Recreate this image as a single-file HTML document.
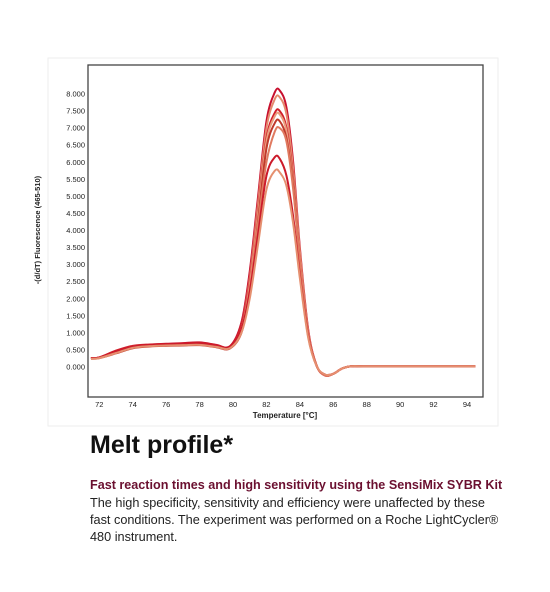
<!DOCTYPE html>
<html><head><meta charset="utf-8">
<style>
body{margin:0;background:#fff;width:550px;height:592px;overflow:hidden;font-family:"Liberation Sans",Arial,sans-serif;}
#wrap{position:relative;width:550px;height:592px;}
.t{position:absolute;left:90px;white-space:nowrap;}
</style></head><body>
<div id="wrap">
<svg id="chart" width="550" height="430" style="position:absolute;left:0;top:0">
  <rect x="48" y="58" width="450" height="368" fill="none" stroke="#eee"/>
  <rect x="88" y="65" width="395" height="332" fill="#fff" stroke="#444" stroke-width="1.3"/>
  <g id="yt"></g><g id="xt"></g><g id="series"></g>
  <text x="285" y="418" font-size="8" font-weight="bold" text-anchor="middle" fill="#222">Temperature [°C]</text>
  <text transform="translate(40,230) rotate(-90)" font-size="7.5" font-weight="bold" text-anchor="middle" fill="#222">-(d/dT) Fluorescence (465-510)</text>
</svg>
<div class="t" style="top:431px;font-size:25px;font-weight:bold;color:#111">Melt profile*</div>
<div class="t" style="top:478px;font-size:12.6px;font-weight:bold;color:#6b1030">Fast reaction times and high sensitivity using the SensiMix SYBR Kit</div>
<div class="t" style="top:495px;font-size:12.7px;line-height:17px;color:#222">The high specificity, sensitivity and efficiency were unaffected by these<br>fast conditions. The experiment was performed on a Roche LightCycler®<br>480 instrument.</div>
</div>
<script>
const temps=[71.5,72,73,74,75,76,77,78,79,79.8,80.5,81,81.5,82,82.5,82.8,83.2,83.6,84,84.5,85,85.5,86,86.5,87,88,90,94.5];
const s1=[0.25,0.28,0.45,0.6,0.65,0.68,0.7,0.72,0.65,0.6,1.3,2.8,5.0,7.2,8.05,8.1,7.6,6.0,3.5,1.1,0.05,-0.25,-0.2,-0.05,0.02,0.02,0.02,0.02];
const s2=[0.25,0.27,0.42,0.58,0.64,0.66,0.68,0.7,0.63,0.58,1.2,2.6,4.8,7.0,7.85,7.9,7.4,5.8,3.4,1.05,0.04,-0.25,-0.2,-0.05,0.02,0.02,0.02,0.02];
const s3=[0.26,0.28,0.48,0.62,0.66,0.67,0.69,0.71,0.64,0.59,1.2,2.5,4.6,6.7,7.45,7.5,7.0,5.5,3.2,1.0,0.04,-0.24,-0.2,-0.05,0.02,0.02,0.02,0.02];
const s4=[0.25,0.27,0.44,0.6,0.63,0.64,0.66,0.67,0.6,0.56,1.1,2.4,4.5,6.6,7.35,7.4,6.9,5.4,3.2,1.0,0.04,-0.24,-0.2,-0.05,0.02,0.02,0.02,0.02];
const s5=[0.24,0.26,0.4,0.55,0.6,0.62,0.63,0.64,0.58,0.54,1.0,2.2,4.3,6.4,7.15,7.2,6.7,5.3,3.1,1.0,0.04,-0.23,-0.2,-0.05,0.02,0.02,0.02,0.02];
const s6=[0.25,0.27,0.43,0.57,0.62,0.64,0.65,0.66,0.6,0.57,1.1,2.3,4.2,6.0,6.9,7.0,6.6,5.2,3.1,1.0,0.04,-0.23,-0.2,-0.05,0.02,0.02,0.02,0.02];
const s7=[0.26,0.28,0.46,0.6,0.65,0.67,0.68,0.7,0.63,0.6,1.1,2.2,3.9,5.6,6.15,6.1,5.6,4.4,2.7,0.9,0.03,-0.22,-0.2,-0.05,0.02,0.02,0.02,0.02];
const s8=[0.24,0.26,0.41,0.56,0.61,0.63,0.64,0.65,0.59,0.55,1.0,2.0,3.6,5.2,5.75,5.7,5.3,4.2,2.6,0.85,0.03,-0.22,-0.2,-0.05,0.02,0.02,0.02,0.02];
const seriesList=[s1,s2,s3,s4,s5,s6,s7,s8];
const seriesColors=["#c8102e","#e58a6e","#d21f2a","#eaa080","#c0392b","#e07a60","#cc1a2a","#e59070"];
const yTicks=[0,0.5,1,1.5,2,2.5,3,3.5,4,4.5,5,5.5,6,6.5,7,7.5,8];
const xTicks=[72,74,76,78,80,82,84,86,88,90,92,94];
const NS="http://www.w3.org/2000/svg";
const xs=t=>99.3+(t-72)*(367.7/22);
const ys=v=>367-v*(273/8);
const yt=document.getElementById('yt'),xt=document.getElementById('xt'),sg=document.getElementById('series');
yTicks.forEach(v=>{
  const tx=document.createElementNS(NS,'text');
  
  
  tx.setAttribute('x',85);tx.setAttribute('y',ys(v)+2.5);tx.setAttribute('font-size','7.5');tx.setAttribute('text-anchor','end');tx.setAttribute('fill','#222');
  tx.textContent=v.toFixed(3);
  yt.appendChild(tx);
});
xTicks.forEach(v=>{
  const tx=document.createElementNS(NS,'text');
  
  
  tx.setAttribute('x',xs(v));tx.setAttribute('y',407);tx.setAttribute('font-size','7.5');tx.setAttribute('text-anchor','middle');tx.setAttribute('fill','#222');
  tx.textContent=v;
  xt.appendChild(tx);
});
function pathFor(vals){
  const p=temps.map((t,i)=>[xs(t),ys(vals[i])]);
  let d='M'+p[0][0]+','+p[0][1];
  for(let i=0;i<p.length-1;i++){
    const p0=p[i-1]||p[i],p1=p[i],p2=p[i+1],p3=p[i+2]||p2;
    const c1x=p1[0]+(p2[0]-p0[0])/6,c1y=p1[1]+(p2[1]-p0[1])/6;
    const c2x=p2[0]-(p3[0]-p1[0])/6,c2y=p2[1]-(p3[1]-p1[1])/6;
    d+=' C'+c1x+','+c1y+' '+c2x+','+c2y+' '+p2[0]+','+p2[1];
  }
  return d;
}
seriesList.forEach((vals,i)=>{
  const pa=document.createElementNS(NS,'path');
  
  
  pa.setAttribute('d',pathFor(vals));pa.setAttribute('fill','none');
  pa.setAttribute('stroke',seriesColors[i%seriesColors.length]);pa.setAttribute('stroke-width','2');
  sg.appendChild(pa);
});
</script>
</body></html>
